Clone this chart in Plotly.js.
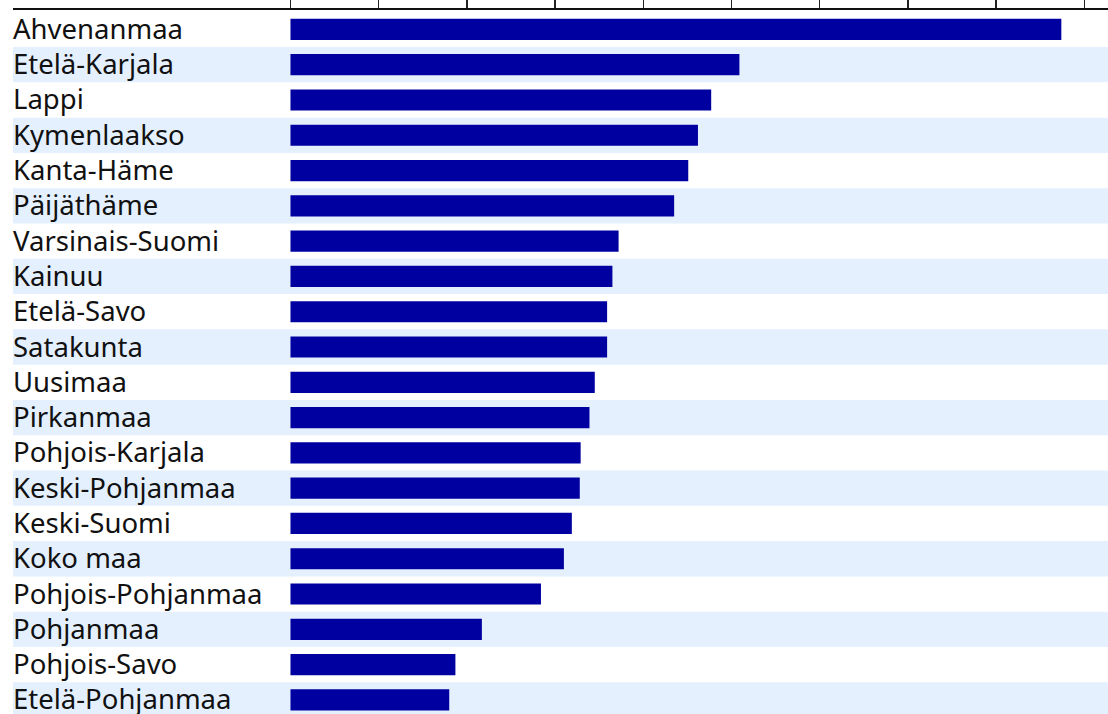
<!DOCTYPE html>
<html>
<head>
<meta charset="utf-8">
<script src="https://cdn.plot.ly/plotly-3.0.1.min.js"></script>
<style>
  html, body { margin: 0; padding: 0; background: #ffffff; overflow: hidden; }
  #chart { width: 1108px; height: 714px; }
</style>
</head>
<body>
<div id="chart"></div>
<script>
// Maakunnat, järjestyksessä ylhäältä alas
const regions = [
  'Ahvenanmaa', 'Etelä-Karjala', 'Lappi', 'Kymenlaakso', 'Kanta-Häme',
  'Päijäthäme', 'Varsinais-Suomi', 'Kainuu', 'Etelä-Savo', 'Satakunta',
  'Uusimaa', 'Pirkanmaa', 'Pohjois-Karjala', 'Keski-Pohjanmaa', 'Keski-Suomi',
  'Koko maa', 'Pohjois-Pohjanmaa', 'Pohjanmaa', 'Pohjois-Savo', 'Etelä-Pohjanmaa'
];

// Arvot luettu kuvasta (asteikko: väkäsen väli = 10)
const values = [
  87.4, 50.9, 47.7, 46.2, 45.1,
  43.5, 37.2, 36.5, 35.9, 35.9,
  34.5, 33.9, 32.9, 32.8, 31.9,
  31.0, 28.4, 21.7, 18.7, 18.0
];

const tickValues = [0, 10, 20, 30, 40, 50, 60, 70, 80, 90];

const BAR_COLOR = '#0000a0';
const BAND_COLOR = '#e4f0fd';
const FONT = 'Noto Sans, Open Sans, sans-serif';

// Joka toinen rivi vaaleansinisellä taustalla
const bands = regions
  .map((r, i) => i)
  .filter(i => i % 2 === 1)
  .map(i => ({
    type: 'rect',
    xref: 'paper', yref: 'y',
    x0: 0, x1: 1,
    y0: i - 0.5, y1: i + 0.5,
    fillcolor: BAND_COLOR,
    line: { width: 0 },
    layer: 'below'
  }));

// Rivien nimet vasemmalle tasattuna
const labels = regions.map(r => ({
  xref: 'paper', yref: 'y',
  x: 0, y: r,
  xanchor: 'left', yanchor: 'middle',
  xshift: -2,
  yshift: 1,
  text: r,
  showarrow: false,
  font: { family: FONT, size: 27.5, color: '#111111' }
}));

const trace = {
  type: 'bar',
  orientation: 'h',
  y: regions,
  x: values,
  width: 0.6,
  marker: { color: BAR_COLOR, line: { width: 0 } },
  hoverinfo: 'skip'
};

const layout = {
  width: 1108,
  height: 714,
  margin: { l: 13, r: 0, t: 10, b: 0 },
  paper_bgcolor: '#ffffff',
  plot_bgcolor: 'rgba(0,0,0,0)',
  showlegend: false,
  font: { family: FONT },
  xaxis: {
    side: 'top',
    range: [-31.46, 92.69],
    tickvals: tickValues,
    showticklabels: false,
    ticks: 'outside',
    ticklen: 9,
    tickwidth: 1.5,
    tickcolor: '#222222',
    showline: true,
    linewidth: 2,
    linecolor: '#111111',
    showgrid: false,
    zeroline: false,
    fixedrange: true
  },
  yaxis: {
    type: 'category',
    range: [19.4, -0.55],
    showticklabels: false,
    showgrid: false,
    zeroline: false,
    showline: false,
    ticks: '',
    fixedrange: true
  },
  shapes: bands,
  annotations: labels
};

Plotly.newPlot('chart', [trace], layout, { displayModeBar: false, staticPlot: true });
</script>
</body>
</html>
